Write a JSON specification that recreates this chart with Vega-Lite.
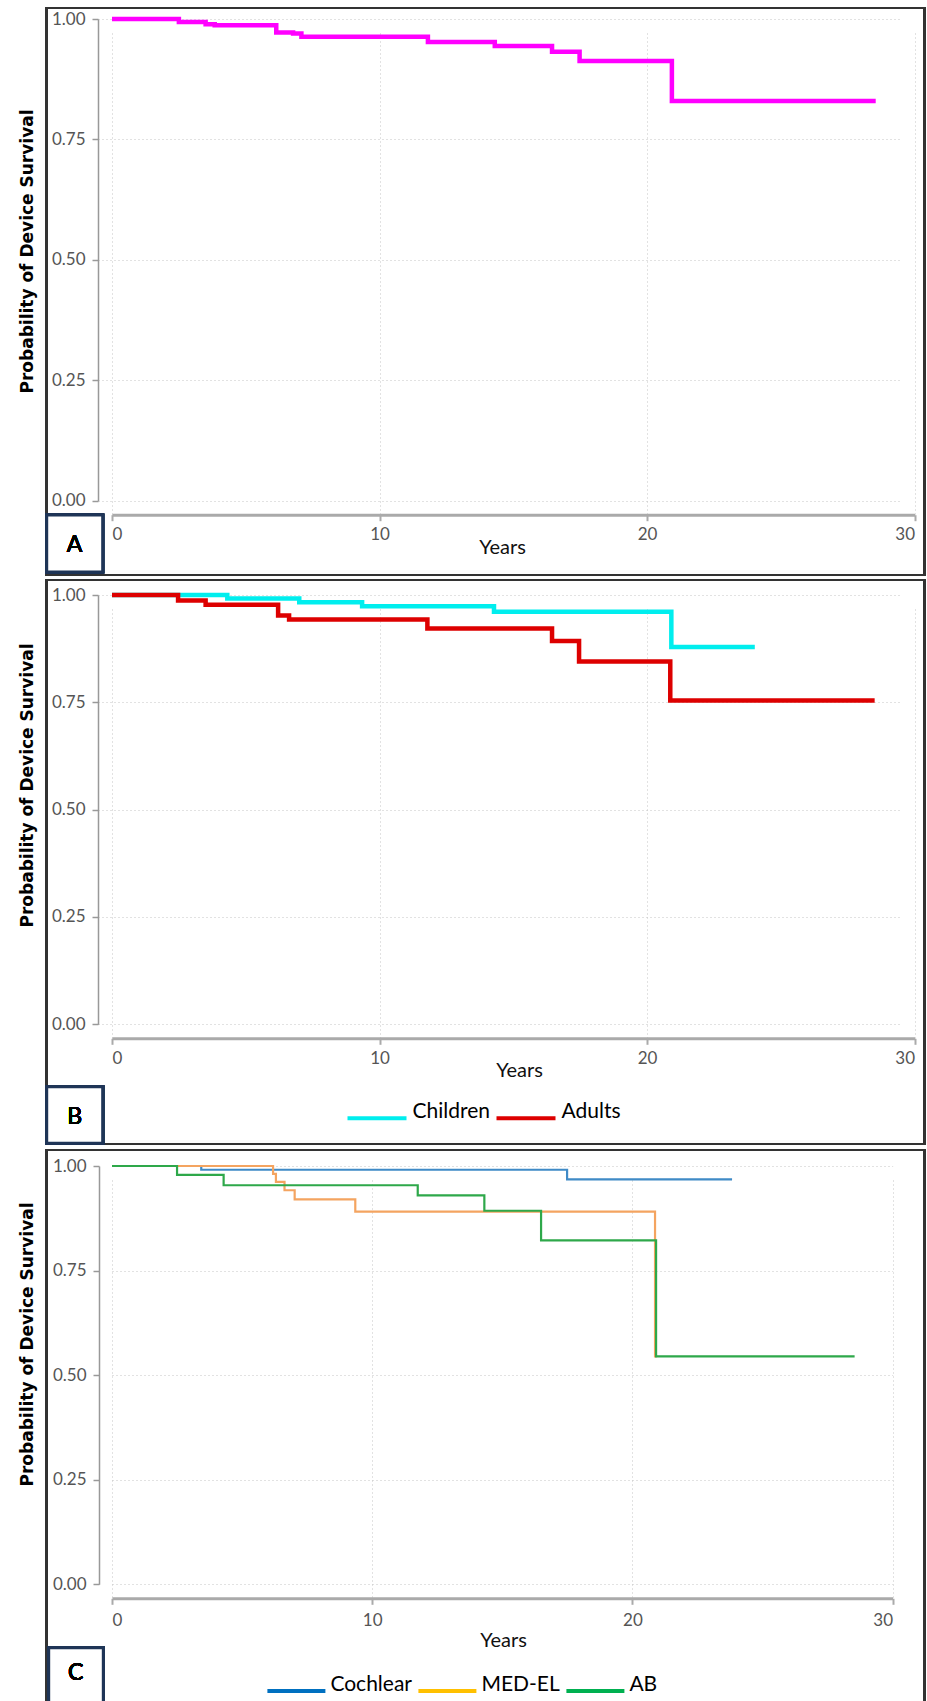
{
  "$schema": "https://vega.github.io/schema/vega-lite/v6.json",
  "padding": {"left": 18, "top": 7, "right": 0, "bottom": 0},
  "spacing": 3,
  "background": "white",
  "resolve": {"scale": {"color": "independent", "stroke": "independent"}, "legend": {"color": "independent", "stroke": "independent"}},
  "config": {
    "view": {"stroke": null},
    "axis": {
      "labelFont": "Lato", "labelFontSize": 17, "labelColor": "#555",
      "domainColor": "#999", "tickColor": "#999", "tickSize": 6,
      "gridColor": "#c4c4c4", "gridDash": [1, 3], "gridWidth": 1, "grid": true,
      "titleFont": "Lato", "titleColor": "#111", "titleFontWeight": "normal"
    },
    "axisY": {"domainWidth": 1.5, "labelPadding": 7, "titleFont": "DejaVu Sans", "titleFontSize": 17, "titleFontWeight": "bold", "titleColor": "#000", "offset": 14, "tickWidth": 1.5},
    "axisX": {"domainWidth": 3, "domainColor": "#aaa", "tickColor": "#aaa", "tickWidth": 2, "offset": 14, "titleFontSize": 20, "labelPadding": 6},
    "legend": {"labelFont": "Lato", "labelFontSize": 21, "labelColor": "#000", "padding": 0, "symbolType": "stroke", "symbolStrokeWidth": 4, "symbolOpacity": 1, "labelBaseline": "alphabetic", "direction": "horizontal", "orient": "none", "title": null}
  },
  "datasets": {
    "a": [
      {"years": 0, "survival": 1.0},
      {"years": 2.50, "survival": 0.994},
      {"years": 3.50, "survival": 0.989},
      {"years": 3.84, "survival": 0.987},
      {"years": 6.14, "survival": 0.972},
      {"years": 6.77, "survival": 0.970},
      {"years": 7.08, "survival": 0.963},
      {"years": 11.81, "survival": 0.952},
      {"years": 14.31, "survival": 0.944},
      {"years": 16.45, "survival": 0.932},
      {"years": 17.48, "survival": 0.913},
      {"years": 20.93, "survival": 0.830},
      {"years": 28.55, "survival": 0.830}
    ],
    "b": [
      {"group": "Children", "years": 0, "survival": 1.0},
      {"group": "Children", "years": 4.31, "survival": 0.992},
      {"group": "Children", "years": 7.00, "survival": 0.983},
      {"group": "Children", "years": 9.35, "survival": 0.974},
      {"group": "Children", "years": 14.28, "survival": 0.961},
      {"group": "Children", "years": 20.91, "survival": 0.879},
      {"group": "Children", "years": 24.03, "survival": 0.879},
      {"group": "Adults", "years": 0, "survival": 1.0},
      {"group": "Adults", "years": 2.47, "survival": 0.987},
      {"group": "Adults", "years": 3.50, "survival": 0.977},
      {"group": "Adults", "years": 6.21, "survival": 0.952},
      {"group": "Adults", "years": 6.62, "survival": 0.943},
      {"group": "Adults", "years": 11.79, "survival": 0.922},
      {"group": "Adults", "years": 16.45, "survival": 0.893},
      {"group": "Adults", "years": 17.46, "survival": 0.845},
      {"group": "Adults", "years": 20.87, "survival": 0.754},
      {"group": "Adults", "years": 28.51, "survival": 0.754}
    ],
    "c": [
      {"group": "Cochlear", "years": 0, "survival": 1.0},
      {"group": "Cochlear", "years": 3.43, "survival": 0.991},
      {"group": "Cochlear", "years": 17.49, "survival": 0.968},
      {"group": "Cochlear", "years": 23.83, "survival": 0.968},
      {"group": "MED-EL", "years": 0, "survival": 1.0},
      {"group": "MED-EL", "years": 6.19, "survival": 0.981},
      {"group": "MED-EL", "years": 6.30, "survival": 0.962},
      {"group": "MED-EL", "years": 6.63, "survival": 0.942},
      {"group": "MED-EL", "years": 7.02, "survival": 0.920},
      {"group": "MED-EL", "years": 9.35, "survival": 0.891},
      {"group": "MED-EL", "years": 20.87, "survival": 0.545},
      {"group": "MED-EL", "years": 20.95, "survival": 0.545},
      {"group": "AB", "years": 0, "survival": 1.0},
      {"group": "AB", "years": 2.50, "survival": 0.979},
      {"group": "AB", "years": 4.29, "survival": 0.954},
      {"group": "AB", "years": 11.75, "survival": 0.930},
      {"group": "AB", "years": 14.31, "survival": 0.893},
      {"group": "AB", "years": 16.49, "survival": 0.822},
      {"group": "AB", "years": 20.91, "survival": 0.545},
      {"group": "AB", "years": 28.54, "survival": 0.545}
    ]
  },
  "vconcat": [
    {
      "width": 802.5,
      "height": 481.7,
      "data": {"name": "a"},
      "layer": [
        {
          "mark": {"type": "rect", "fill": "transparent", "stroke": "#333", "strokeWidth": 2},
          "encoding": {
            "x": {"datum": -2.441, "type": "quantitative", "scale": {"domain": [0, 30], "nice": false, "zero": false},
                  "axis": {"values": [0, 10, 20, 30], "title": "Years", "titleX": 390, "titlePadding": -5.5}},
            "x2": {"datum": 30.381},
            "y": {"datum": 1.0228, "type": "quantitative", "scale": {"domain": [0, 1], "nice": false, "zero": false},
                  "axis": {"values": [0, 0.25, 0.5, 0.75, 1], "format": ".2f", "title": "Probability of Device Survival", "titleX": -61.3, "titleY": 232}},
            "y2": {"datum": -0.1542}
          }
        },
        {
          "mark": {"type": "rect", "fill": "white", "stroke": "#1F3557", "strokeWidth": 3},
          "encoding": {
            "x": {"datum": -2.441, "type": "quantitative", "scale": {"domain": [0, 30], "nice": false, "zero": false},
                  "axis": {"values": [0, 10, 20, 30], "title": "Years", "titleX": 390, "titlePadding": -5.5}},
            "x2": {"datum": -0.348},
            "y": {"datum": -0.0297, "type": "quantitative", "scale": {"domain": [0, 1], "nice": false, "zero": false},
                  "axis": {"values": [0, 0.25, 0.5, 0.75, 1], "format": ".2f", "title": "Probability of Device Survival", "titleX": -61.3, "titleY": 232}},
            "y2": {"datum": -0.148}
          }
        },
        {
          "mark": {"type": "text", "font": "Lato", "fontSize": 23, "color": "#000", "baseline": "middle", "align": "center"},
          "encoding": {
            "x": {"datum": -1.398, "type": "quantitative", "scale": {"domain": [0, 30], "nice": false, "zero": false},
                  "axis": {"values": [0, 10, 20, 30], "title": "Years", "titleX": 390, "titlePadding": -5.5}},
            "y": {"datum": -0.092, "type": "quantitative", "scale": {"domain": [0, 1], "nice": false, "zero": false},
                  "axis": {"values": [0, 0.25, 0.5, 0.75, 1], "format": ".2f", "title": "Probability of Device Survival", "titleX": -61.3, "titleY": 232}},
            "text": {"value": "A"}
          }
        },
        {
          "mark": {"type": "line", "interpolate": "step-after", "color": "#FF00FF", "strokeWidth": 4.5},
          "encoding": {
            "x": {"field": "years", "type": "quantitative", "scale": {"domain": [0, 30], "nice": false, "zero": false},
                  "axis": {"values": [0, 10, 20, 30], "title": "Years", "titleX": 390, "titlePadding": -5.5}},
            "y": {"field": "survival", "type": "quantitative", "scale": {"domain": [0, 1], "nice": false, "zero": false},
                  "axis": {"values": [0, 0.25, 0.5, 0.75, 1], "format": ".2f", "title": "Probability of Device Survival", "titleX": -61.3, "titleY": 232}}
          }
        }
      ]
    },
    {
      "width": 802.5,
      "height": 429.3,
      "data": {"name": "b"},
      "layer": [
        {
          "mark": {"type": "rect", "fill": "transparent", "stroke": "#333", "strokeWidth": 2},
          "encoding": {
            "x": {"datum": -2.441, "type": "quantitative", "scale": {"domain": [0, 30], "nice": false, "zero": false},
                  "axis": {"values": [0, 10, 20, 30], "title": "Years", "titleX": 407, "titlePadding": -5.5}},
            "x2": {"datum": 30.381},
            "y": {"datum": 1.0349, "type": "quantitative", "scale": {"domain": [0, 1], "nice": false, "zero": false},
                  "axis": {"values": [0, 0.25, 0.5, 0.75, 1], "format": ".2f", "title": "Probability of Device Survival", "titleX": -61.3, "titleY": 190}},
            "y2": {"datum": -0.2788}
          }
        },
        {
          "mark": {"type": "rect", "fill": "white", "stroke": "#1F3557", "strokeWidth": 3},
          "encoding": {
            "x": {"datum": -2.441, "type": "quantitative", "scale": {"domain": [0, 30], "nice": false, "zero": false},
                  "axis": {"values": [0, 10, 20, 30], "title": "Years", "titleX": 407, "titlePadding": -5.5}},
            "x2": {"datum": -0.348},
            "y": {"datum": -0.1454, "type": "quantitative", "scale": {"domain": [0, 1], "nice": false, "zero": false},
                  "axis": {"values": [0, 0.25, 0.5, 0.75, 1], "format": ".2f", "title": "Probability of Device Survival", "titleX": -61.3, "titleY": 190}},
            "y2": {"datum": -0.2772}
          }
        },
        {
          "mark": {"type": "text", "font": "Lato", "fontSize": 23, "color": "#000", "baseline": "middle", "align": "center"},
          "encoding": {
            "x": {"datum": -1.398, "type": "quantitative", "scale": {"domain": [0, 30], "nice": false, "zero": false},
                  "axis": {"values": [0, 10, 20, 30], "title": "Years", "titleX": 407, "titlePadding": -5.5}},
            "y": {"datum": -0.2152, "type": "quantitative", "scale": {"domain": [0, 1], "nice": false, "zero": false},
                  "axis": {"values": [0, 0.25, 0.5, 0.75, 1], "format": ".2f", "title": "Probability of Device Survival", "titleX": -61.3, "titleY": 190}},
            "text": {"value": "B"}
          }
        },
        {
          "transform": [{"filter": "datum.group === 'Children'"}],
          "mark": {"type": "line", "interpolate": "step-after", "strokeWidth": 4.5},
          "encoding": {
            "x": {"field": "years", "type": "quantitative", "scale": {"domain": [0, 30], "nice": false, "zero": false},
                  "axis": {"values": [0, 10, 20, 30], "title": "Years", "titleX": 407, "titlePadding": -5.5}},
            "y": {"field": "survival", "type": "quantitative", "scale": {"domain": [0, 1], "nice": false, "zero": false},
                  "axis": {"values": [0, 0.25, 0.5, 0.75, 1], "format": ".2f", "title": "Probability of Device Survival", "titleX": -61.3, "titleY": 190}},
            "color": {"field": "group", "type": "nominal",
                      "scale": {"domain": ["Children", "Adults"], "range": ["#00EEEE", "#DD0000"]},
                      "legend": {"legendX": 233.5, "legendY": 491.5, "symbolSize": 3481, "labelOffset": 4, "columnPadding": -2}}
          }
        },
        {
          "transform": [{"filter": "datum.group === 'Adults'"}],
          "mark": {"type": "line", "interpolate": "step-after", "strokeWidth": 4.5},
          "encoding": {
            "x": {"field": "years", "type": "quantitative", "scale": {"domain": [0, 30], "nice": false, "zero": false},
                  "axis": {"values": [0, 10, 20, 30], "title": "Years", "titleX": 407, "titlePadding": -5.5}},
            "y": {"field": "survival", "type": "quantitative", "scale": {"domain": [0, 1], "nice": false, "zero": false},
                  "axis": {"values": [0, 0.25, 0.5, 0.75, 1], "format": ".2f", "title": "Probability of Device Survival", "titleX": -61.3, "titleY": 190}},
            "color": {"field": "group", "type": "nominal", "scale": {"domain": ["Children", "Adults"], "range": ["#00EEEE", "#DD0000"]},
                      "legend": {"legendX": 233.5, "legendY": 491.5, "symbolSize": 3481, "labelOffset": 4, "columnPadding": -2}}
          }
        }
      ]
    },
    {
      "width": 780.6,
      "height": 418.3,
      "data": {"name": "c"},
      "layer": [
        {
          "mark": {"type": "rect", "fill": "transparent", "stroke": "#333", "strokeWidth": 2},
          "encoding": {
            "x": {"datum": -2.510, "type": "quantitative", "scale": {"domain": [0, 30], "nice": false, "zero": false},
                  "axis": {"values": [0, 10, 20, 30], "title": "Years", "titleX": 391, "titlePadding": 2, "labelPadding": 8}},
            "x2": {"datum": 31.234},
            "y": {"datum": 1.0383, "type": "quantitative", "scale": {"domain": [0, 1], "nice": false, "zero": false},
                  "axis": {"values": [0, 0.25, 0.5, 0.75, 1], "format": ".2f", "title": "Probability of Device Survival", "titleX": -62.3, "titleY": 178, "offset": 13}},
            "y2": {"datum": -0.2862}
          }
        },
        {
          "mark": {"type": "rect", "fill": "white", "stroke": "#1F3557", "strokeWidth": 3},
          "encoding": {
            "x": {"datum": -2.433, "type": "quantitative", "scale": {"domain": [0, 30], "nice": false, "zero": false},
                  "axis": {"values": [0, 10, 20, 30], "title": "Years", "titleX": 391, "titlePadding": 2, "labelPadding": 8}},
            "x2": {"datum": -0.334},
            "y": {"datum": -0.1516, "type": "quantitative", "scale": {"domain": [0, 1], "nice": false, "zero": false},
                  "axis": {"values": [0, 0.25, 0.5, 0.75, 1], "format": ".2f", "title": "Probability of Device Survival", "titleX": -62.3, "titleY": 178, "offset": 13}},
            "y2": {"datum": -0.2862}
          }
        },
        {
          "mark": {"type": "text", "font": "Lato", "fontSize": 23, "color": "#000", "baseline": "middle", "align": "center"},
          "encoding": {
            "x": {"datum": -1.395, "type": "quantitative", "scale": {"domain": [0, 30], "nice": false, "zero": false},
                  "axis": {"values": [0, 10, 20, 30], "title": "Years", "titleX": 391, "titlePadding": 2, "labelPadding": 8}},
            "y": {"datum": -0.2113, "type": "quantitative", "scale": {"domain": [0, 1], "nice": false, "zero": false},
                  "axis": {"values": [0, 0.25, 0.5, 0.75, 1], "format": ".2f", "title": "Probability of Device Survival", "titleX": -62.3, "titleY": 178, "offset": 13}},
            "text": {"value": "C"}
          }
        },
        {
          "mark": {"type": "line", "interpolate": "step-after", "strokeWidth": 4, "opacity": 0},
          "encoding": {
            "x": {"field": "years", "type": "quantitative", "scale": {"domain": [0, 30], "nice": false, "zero": false},
                  "axis": {"values": [0, 10, 20, 30], "title": "Years", "titleX": 391, "titlePadding": 2, "labelPadding": 8}},
            "y": {"field": "survival", "type": "quantitative", "scale": {"domain": [0, 1], "nice": false, "zero": false},
                  "axis": {"values": [0, 0.25, 0.5, 0.75, 1], "format": ".2f", "title": "Probability of Device Survival", "titleX": -62.3, "titleY": 178, "offset": 13}},
            "stroke": {"field": "group", "type": "nominal", "scale": {"domain": ["Cochlear", "MED-EL", "AB"], "range": ["#0070C0", "#FFC000", "#00B050"]},
                       "legend": {"legendX": 153.4, "legendY": 494, "symbolSize": 3364, "labelOffset": 3, "columnPadding": -2, "symbolOpacity": 1}}
          }
        },
        {
          "transform": [{"filter": "datum.group === 'Cochlear'"}],
          "mark": {"type": "line", "interpolate": "step-after", "strokeWidth": 2.2},
          "encoding": {
            "x": {"field": "years", "type": "quantitative", "scale": {"domain": [0, 30], "nice": false, "zero": false},
                  "axis": {"values": [0, 10, 20, 30], "title": "Years", "titleX": 391, "titlePadding": 2, "labelPadding": 8}},
            "y": {"field": "survival", "type": "quantitative", "scale": {"domain": [0, 1], "nice": false, "zero": false},
                  "axis": {"values": [0, 0.25, 0.5, 0.75, 1], "format": ".2f", "title": "Probability of Device Survival", "titleX": -62.3, "titleY": 178, "offset": 13}},
            "color": {"field": "group", "type": "nominal",
                      "scale": {"domain": ["Cochlear", "MED-EL", "AB"], "range": ["#3F8AC6", "#F4A460", "#2EA84A"]},
                      "legend": null}
          }
        },
        {
          "transform": [{"filter": "datum.group === 'MED-EL'"}],
          "mark": {"type": "line", "interpolate": "step-after", "strokeWidth": 2.2},
          "encoding": {
            "x": {"field": "years", "type": "quantitative", "scale": {"domain": [0, 30], "nice": false, "zero": false},
                  "axis": {"values": [0, 10, 20, 30], "title": "Years", "titleX": 391, "titlePadding": 2, "labelPadding": 8}},
            "y": {"field": "survival", "type": "quantitative", "scale": {"domain": [0, 1], "nice": false, "zero": false},
                  "axis": {"values": [0, 0.25, 0.5, 0.75, 1], "format": ".2f", "title": "Probability of Device Survival", "titleX": -62.3, "titleY": 178, "offset": 13}},
            "color": {"field": "group", "type": "nominal", "scale": {"domain": ["Cochlear", "MED-EL", "AB"], "range": ["#3F8AC6", "#F4A460", "#2EA84A"]},
                      "legend": null}
          }
        },
        {
          "transform": [{"filter": "datum.group === 'AB'"}],
          "mark": {"type": "line", "interpolate": "step-after", "strokeWidth": 2.2},
          "encoding": {
            "x": {"field": "years", "type": "quantitative", "scale": {"domain": [0, 30], "nice": false, "zero": false},
                  "axis": {"values": [0, 10, 20, 30], "title": "Years", "titleX": 391, "titlePadding": 2, "labelPadding": 8}},
            "y": {"field": "survival", "type": "quantitative", "scale": {"domain": [0, 1], "nice": false, "zero": false},
                  "axis": {"values": [0, 0.25, 0.5, 0.75, 1], "format": ".2f", "title": "Probability of Device Survival", "titleX": -62.3, "titleY": 178, "offset": 13}},
            "color": {"field": "group", "type": "nominal", "scale": {"domain": ["Cochlear", "MED-EL", "AB"], "range": ["#3F8AC6", "#F4A460", "#2EA84A"]},
                      "legend": null}
          }
        }
      ]
    }
  ]
}
